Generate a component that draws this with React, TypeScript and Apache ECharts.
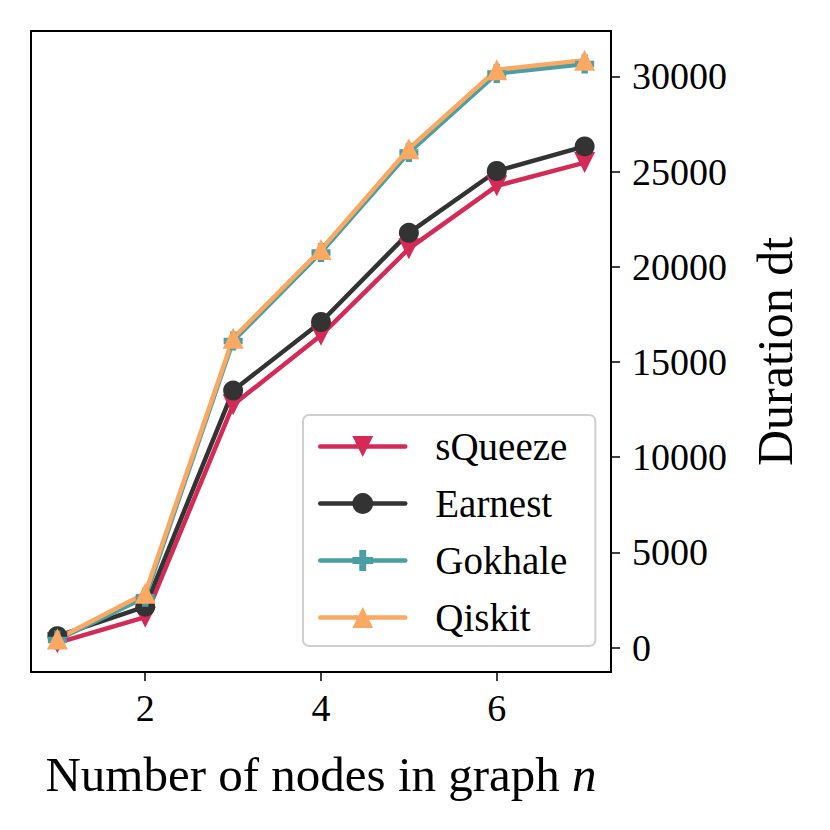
import React, { useEffect, useRef } from "react";
import * as echarts from "echarts";

const nodes = [1, 2, 3, 4, 5, 6, 7];
const squeeze = [250, 1600, 12750, 16400, 20950, 24250, 25470];
const earnest = [600, 2150, 13500, 17100, 21780, 25030, 26320];
const gokhale = [400, 2650, 16100, 20750, 26000, 30150, 30650];
const qiskit = [450, 2850, 16250, 20900, 26200, 30350, 30850];
const xTicks = [2, 4, 6];
const yTicks = [0, 5000, 10000, 15000, 20000, 25000, 30000];

const FONT = "Liberation Serif";
const PLUS = "path://M2,0H4V2H6V4H4V6H2V4H0V2H2Z";

function pairs(vals: number[]) {
  return nodes.map((n, i) => [n, vals[i]]);
}

export default function App() {
  const ref = useRef<HTMLDivElement>(null);
  useEffect(() => {
    if (!ref.current) return;
    const chart = echarts.init(ref.current, undefined, { renderer: "svg" });
    const mk = (name: string, data: number[], color: string, symbol: string, size: number, rotate = 0) => ({
      name,
      type: "line",
      data: pairs(data),
      symbol,
      symbolSize: size,
      symbolRotate: rotate,
      lineStyle: { color, width: 4.5, cap: "round", join: "round" },
      itemStyle: { color, opacity: 1 },
      emphasis: { disabled: true },
    });
    chart.setOption({
      animation: false,
      backgroundColor: "#ffffff",
      textStyle: { fontFamily: FONT, color: "#000" },
      grid: {
        left: 31,
        right: 219,
        top: 31,
        bottom: 158,
        show: true,
        borderColor: "#000",
        borderWidth: 2,
        backgroundColor: "transparent",
      },
      xAxis: {
        type: "value",
        min: 0.7,
        max: 7.3,
        splitLine: { show: false },
        axisLine: { show: true, onZero: false, lineStyle: { color: "#000", width: 2 } },
        axisTick: { show: true, customValues: xTicks, length: 9, lineStyle: { color: "#000", width: 1.5 } },
        axisLabel: {
          customValues: xTicks,
          margin: 17,
          fontSize: 38,
          fontFamily: FONT,
          color: "#000",
          formatter: (v: number) => String(v),
        },
        name: "Number of nodes in graph {i|n}",
        nameLocation: "middle",
        nameGap: 78,
        nameTextStyle: {
          fontSize: 49,
          fontFamily: FONT,
          color: "#000",
          rich: { i: { fontStyle: "italic", fontSize: 49, fontFamily: FONT, color: "#000" } },
        },
      },
      yAxis: {
        type: "value",
        position: "right",
        min: -1280,
        max: 32380,
        splitLine: { show: false },
        axisLine: { show: true, lineStyle: { color: "#000", width: 2 } },
        axisTick: { show: true, customValues: yTicks, length: 9, lineStyle: { color: "#000", width: 1.5 } },
        axisLabel: {
          customValues: yTicks,
          margin: 21,
          fontSize: 38,
          fontFamily: FONT,
          color: "#000",
          formatter: (v: number) => String(v),
        },
        name: "Duration dt",
        nameLocation: "middle",
        nameRotate: 90,
        nameGap: 139,
        nameTextStyle: { fontSize: 50, fontFamily: FONT, color: "#000" },
      },
      legend: {
        orient: "vertical",
        left: 303,
        top: 415,
        padding: [12, 28, 9, 15],
        itemWidth: 85,
        itemHeight: 26,
        itemGap: 18,
        borderColor: "#d0d0d0",
        borderWidth: 2,
        borderRadius: 6,
        backgroundColor: "rgba(255,255,255,0.85)",
        lineStyle: { width: 4.5 },
        textStyle: { fontSize: 39, fontFamily: FONT, color: "#000", lineHeight: 38, padding: [0, 0, 0, 25] },
        data: ["sQueeze", "Earnest", "Gokhale", "Qiskit"],
      },
      series: [
        mk("sQueeze", squeeze, "#d42a55", "triangle", 21, 180),
        mk("Earnest", earnest, "#333333", "circle", 20),
        mk("Gokhale", gokhale, "#4a9fa5", PLUS, 19),
        mk("Qiskit", qiskit, "#fba863", "triangle", 21),
      ],
    });
    return () => chart.dispose();
  }, []);
  return (
    <div
      ref={ref}
      style={{ position: "fixed", left: 0, top: 0, width: 830, height: 830, background: "#fff" }}
    />
  );
}
